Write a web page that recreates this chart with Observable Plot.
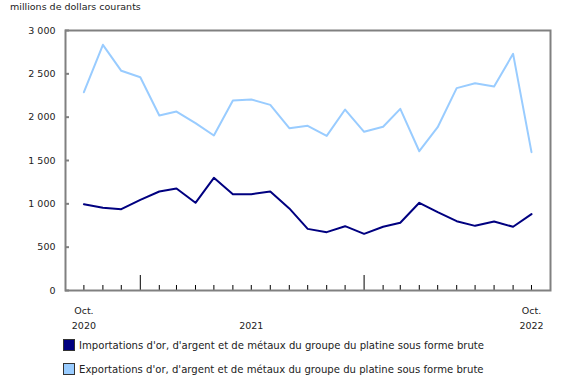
<!DOCTYPE html>
<html><head><meta charset="utf-8">
<script src="https://cdn.jsdelivr.net/npm/d3@7"></script>
<script src="https://cdn.jsdelivr.net/npm/@observablehq/plot@0.6"></script>
<style>
body{margin:0;background:#fff;font-family:"DejaVu Sans",Verdana,sans-serif;}
#wrap{position:relative;width:580px;height:385px;overflow:hidden;}
#title{position:absolute;left:10px;top:0;font-size:9.5px;line-height:14px;color:#222;white-space:nowrap;}
#chart{position:absolute;left:0;top:18px;}
.leg{position:absolute;left:63px;font-size:10.1px;color:#222;display:flex;align-items:center;white-space:nowrap;height:14px;}
.sw{width:12px;height:12px;border:1px solid #333;margin-right:4px;box-sizing:border-box;}
</style></head>
<body>
<div id="wrap">
  <div id="title">millions de dollars courants</div>
  <div id="chart"></div>
  <div class="leg" style="top:338px"><div class="sw" style="background:#000080"></div><span>Importations d'or, d'argent et de métaux du groupe du platine sous forme brute</span></div>
  <div class="leg" style="top:362px"><div class="sw" style="background:#99ccff"></div><span>Exportations d'or, d'argent et de métaux du groupe du platine sous forme brute</span></div>
</div>
<script>
const months = ["2020-10","2020-11","2020-12","2021-01","2021-02","2021-03","2021-04","2021-05","2021-06","2021-07","2021-08","2021-09",
                "2021-10","2021-11","2021-12","2022-01","2022-02","2022-03","2022-04","2022-05","2022-06","2022-07","2022-08","2022-09","2022-10"];
const imports = [996, 954, 938, 1046, 1142, 1177, 1012, 1300, 1111, 1111, 1142, 947,
                 711, 673, 742, 654, 735, 781, 1012, 904, 800, 746, 796, 735, 881];
const exports = [2288, 2835, 2535, 2461, 2019, 2065, 1931, 1788, 2192, 2204, 2142, 1873,
                 1900, 1784, 2088, 1831, 1889, 2096, 1607, 1884, 2335, 2392, 2354, 2731, 1596];
const yTicks = [0, 500, 1000, 1500, 2000, 2500, 3000];
const xLabelDates = ["2020-10", "2021-07", "2022-10"];
const xLabelTexts = ["Oct.\n2020", "\n2021", "Oct.\n2022"];
const majorTickMonths = ["2021-01", "2022-01"];

const parse = m => new Date(m + "-01T00:00:00Z");
const data = months.map((m, i) => ({date: parse(m), imp: imports[i], exp: exports[i]}));
const minor = months.filter(m => !majorTickMonths.includes(m)).map(parse);
const major = majorTickMonths.map(parse);
const labels = xLabelDates.map((d, i) => ({date: parse(d), text: xLabelTexts[i]}));
const fmt = d => d3.format(",")(d).replace(/,/g, " ");

const W = 580, H = 312, mt = 12, mb = 40, ml = 65, mr = 30;
const fw = W - ml - mr, fh = H - mt - mb;

const chart = Plot.plot({
  width: W, height: H,
  marginTop: mt, marginBottom: mb, marginLeft: ml, marginRight: mr,
  style: {fontFamily: "DejaVu Sans, Verdana, sans-serif", fontSize: "9.5px", color: "#222", background: "#fff"},
  x: {type: "utc", domain: [parse("2020-09"), parse("2022-11")], axis: null},
  y: {domain: [0, 3000], axis: null},
  marks: [
    Plot.ruleY(yTicks, {insetRight: fw - 4, stroke: "#808080", strokeWidth: 2}),
    Plot.ruleX(minor, {insetTop: fh - 5, stroke: "#000", strokeWidth: 1}),
    Plot.ruleX(major, {insetTop: fh - 15, stroke: "#000", strokeWidth: 1}),
    Plot.frame({stroke: "#808080", strokeWidth: 2}),
    Plot.axisY({ticks: yTicks, tickSize: 0, tickPadding: 10, tickFormat: fmt, fill: "#222"}),
    Plot.text(labels, {x: "date", text: "text", frameAnchor: "bottom", lineAnchor: "top", dy: 13, lineHeight: 1.58, fill: "#222"}),
    Plot.lineY(data, {x: "date", y: "exp", stroke: "#99ccff", strokeWidth: 2}),
    Plot.lineY(data, {x: "date", y: "imp", stroke: "#000080", strokeWidth: 2})
  ]
});
document.getElementById("chart").appendChild(chart);
</script>
</body></html>
